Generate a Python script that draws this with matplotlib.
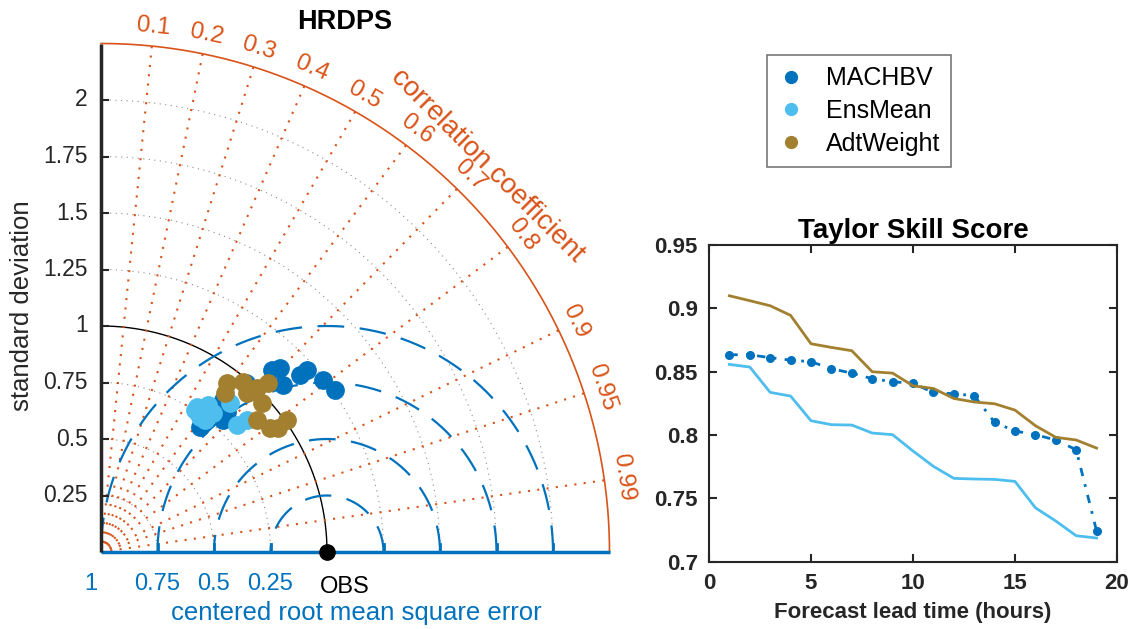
import numpy as np
import matplotlib
matplotlib.use("Agg")
import matplotlib.pyplot as plt
from matplotlib.lines import Line2D

plt.rcParams['font.family'] = ['Liberation Sans', 'DejaVu Sans']

# Taylor diagram points (standard deviation, correlation)
machbv_std = [1.105, 1.136, 1.093, 1.178, 1.216, 1.243, 1.259, 0.862, 0.833, 0.795, 0.706, 0.985]
machbv_corr = [0.685, 0.697, 0.737, 0.747, 0.750, 0.790, 0.822, 0.626, 0.669, 0.679, 0.621, 0.651]
ensmean_std = [0.770, 0.805, 0.741, 0.790, 0.872, 0.823, 0.871, 0.754, 0.744]
ensmean_corr = [0.552, 0.589, 0.591, 0.627, 0.655, 0.731, 0.742, 0.552, 0.619]
adt_std = [0.933, 0.892, 0.980, 0.955, 1.002, 1.051, 0.971, 0.904, 0.928, 1.009, 0.956]
adt_corr = [0.598, 0.615, 0.641, 0.676, 0.689, 0.703, 0.734, 0.763, 0.806, 0.816, 0.819]

corr_ticks = [0.1, 0.2, 0.3, 0.4, 0.5, 0.6, 0.7, 0.8, 0.9, 0.95, 0.99]
std_ticks = [0.25, 0.5, 0.75, 1, 1.25, 1.5, 1.75, 2]
std_labels = ['0.25', '0.5', '0.75', '1', '1.25', '1.5', '1.75', '2']
rms_ticks = [0.25, 0.5, 0.75, 1.0]
rms_labels = ['0.25', '0.5', '0.75', '1']
std_max = 2.25

# Taylor skill score vs lead time
lead = list(range(1, 20))
tss_machbv = [0.8634, 0.8634, 0.8611, 0.8592, 0.8579, 0.8524, 0.8489, 0.8445, 0.8421, 0.8408,
              0.8337, 0.8326, 0.8311, 0.8100, 0.8032, 0.8003, 0.7961, 0.7884, 0.7242]
tss_ensmean = [0.8558, 0.8537, 0.8337, 0.8308, 0.8113, 0.8082, 0.8079, 0.8016, 0.8003, 0.7874,
               0.7753, 0.7658, 0.7653, 0.7650, 0.7634, 0.7426, 0.7321, 0.7205, 0.7187]
tss_adt = [0.9100, 0.9061, 0.9021, 0.8945, 0.8721, 0.8692, 0.8666, 0.8500, 0.8489, 0.8389,
           0.8368, 0.8289, 0.8261, 0.8247, 0.8197, 0.8074, 0.7982, 0.7961, 0.7897]

c_mach = '#0072BD'
c_ens = '#4DBEEE'
c_adt = '#A2802F'
c_orange = '#D95319'
c_dark = '#262626'

fig = plt.figure(figsize=(11.39, 6.29), dpi=100)

# ---- Taylor diagram ----
ax = fig.add_axes([101 / 1139, 77 / 629, 519.8 / 1139, 519.8 / 629])
ax.set_xlim(0, 2.3)
ax.set_ylim(0, 2.3)
ax.axis('off')

t = np.linspace(0, np.pi / 2, 300)
# std arcs
for s in std_ticks:
    if s == 1:
        ax.plot(s * np.cos(t), s * np.sin(t), color='black', lw=1, clip_on=False)
    else:
        ax.plot(s * np.cos(t), s * np.sin(t), color='#8c8c8c', lw=0.8, ls=(0, (1, 4)), clip_on=False)
# outer arc
ax.plot(std_max * np.cos(t), std_max * np.sin(t), color=c_orange, lw=1.2, clip_on=False)

# correlation lines + labels
for c in corr_ticks:
    th = np.arccos(c)
    ax.plot([0, std_max * c], [0, std_max * np.sin(th)], color=c_orange, lw=1.5,
            ls=(0, (1, 3.5)), clip_on=False)
    r = 2.335
    ax.text(r * c, r * np.sin(th), str(c), color=c_orange, fontsize=17.5,
            rotation=np.degrees(th) - 90, rotation_mode='anchor', ha='center', va='center')
ax.text(2.42 * np.cos(np.pi / 4), 2.42 * np.sin(np.pi / 4), 'correlation coefficient',
        color=c_orange, fontsize=20, rotation=-45, rotation_mode='anchor', ha='center', va='center')

# rms arcs centred on the reference
tt = np.linspace(0, np.pi, 400)
for r in rms_ticks:
    ax.plot(1 + r * np.cos(tt), r * np.sin(tt), color=c_mach, lw=1.6,
            ls=(0, (12, 7)), clip_on=False)
for r, lab in zip(rms_ticks, rms_labels):
    xl = 1 - r if r < 1 else -0.045
    ax.text(xl, -0.14, lab, color=c_mach, fontsize=17, ha='center', va='center')
    for xt in (1 - r, 1 + r):
        if xt > 0:
            ax.plot([xt, xt], [0, 0.035], color=c_mach, lw=2, clip_on=False)
ax.text(1.08, -0.155, 'OBS', color='black', fontsize=17, ha='center', va='center')
ax.text(1.13, -0.27, 'centered root mean square error', color=c_mach, fontsize=18.5,
        ha='center', va='center')

# axes lines
ax.plot([0, std_max], [0, 0], color=c_mach, lw=2.5, clip_on=False, solid_capstyle='butt')
ax.plot([0, 0], [0, std_max], color=c_dark, lw=2.5, clip_on=False, solid_capstyle='butt')
for s, lab in zip(std_ticks, std_labels):
    ax.plot([0, 0.03], [s, s], color=c_dark, lw=1.5, clip_on=False)
    ax.text(-0.058, s, lab, color=c_dark, fontsize=16.5, ha='right', va='center')
ax.text(-0.35, 1.09, 'standard deviation', color=c_dark, fontsize=18.5, rotation=90,
        ha='center', va='center')
ax.text(1.08, 2.345, 'HRDPS', fontsize=19.5, fontweight='bold', ha='center', va='center')

# reference point
ax.plot([1], [0], 'o', color='black', ms=11, clip_on=False, zorder=5)

# model points
for sd, cr, col in [(machbv_std, machbv_corr, c_mach),
                    (ensmean_std, ensmean_corr, c_ens),
                    (adt_std, adt_corr, c_adt)]:
    sd = np.array(sd)
    cr = np.array(cr)
    ax.plot(sd * cr, sd * np.sin(np.arccos(cr)), 'o', color=col, ms=12.5, ls='none', zorder=6)

# legend
handles = [Line2D([], [], marker='o', ls='none', color=c_mach, ms=8.5),
           Line2D([], [], marker='o', ls='none', color=c_ens, ms=8.5),
           Line2D([], [], marker='o', ls='none', color=c_adt, ms=8.5)]
leg = fig.legend(handles, ['MACHBV', 'EnsMean', 'AdtWeight'], loc='upper left',
                 bbox_to_anchor=(767 / 1139, 1 - 55 / 629), borderaxespad=0, fontsize=18,
                 frameon=True, fancybox=False, edgecolor='#555555', handlelength=1.0,
                 handletextpad=0.9, borderpad=0.45, labelspacing=0.35)
leg.get_frame().set_linewidth(1.2)

# ---- Taylor skill score ----
ax2 = fig.add_axes([709 / 1139, 67.3 / 629, 408 / 1139, 316.6 / 629])
ax2.plot(lead, tss_machbv, color=c_mach, lw=2, ls=(0, (3, 3, 1, 3)), marker='o', ms=5.5)
ax2.plot(lead, tss_ensmean, color=c_ens, lw=2)
ax2.plot(lead, tss_adt, color=c_adt, lw=2)
ax2.set_xlim(0, 20)
ax2.set_ylim(0.7, 0.95)
ax2.set_xticks([0, 5, 10, 15, 20])
ax2.set_yticks([0.7, 0.75, 0.8, 0.85, 0.9, 0.95])
ax2.set_yticklabels(['0.7', '0.75', '0.8', '0.85', '0.9', '0.95'])
ax2.tick_params(direction='in', top=True, right=True, length=6, width=1.5,
                labelsize=16, colors=c_dark, pad=8)
for lab in ax2.get_xticklabels() + ax2.get_yticklabels():
    lab.set_fontweight('bold')
for sp in ax2.spines.values():
    sp.set_linewidth(1.5)
    sp.set_color(c_dark)
ax2.set_title('Taylor Skill Score', fontsize=20, fontweight='bold', pad=5)
ax2.set_xlabel('Forecast lead time (hours)', fontsize=16, fontweight='bold', color=c_dark,
               labelpad=6)

fig.savefig('out.png', dpi=100)
